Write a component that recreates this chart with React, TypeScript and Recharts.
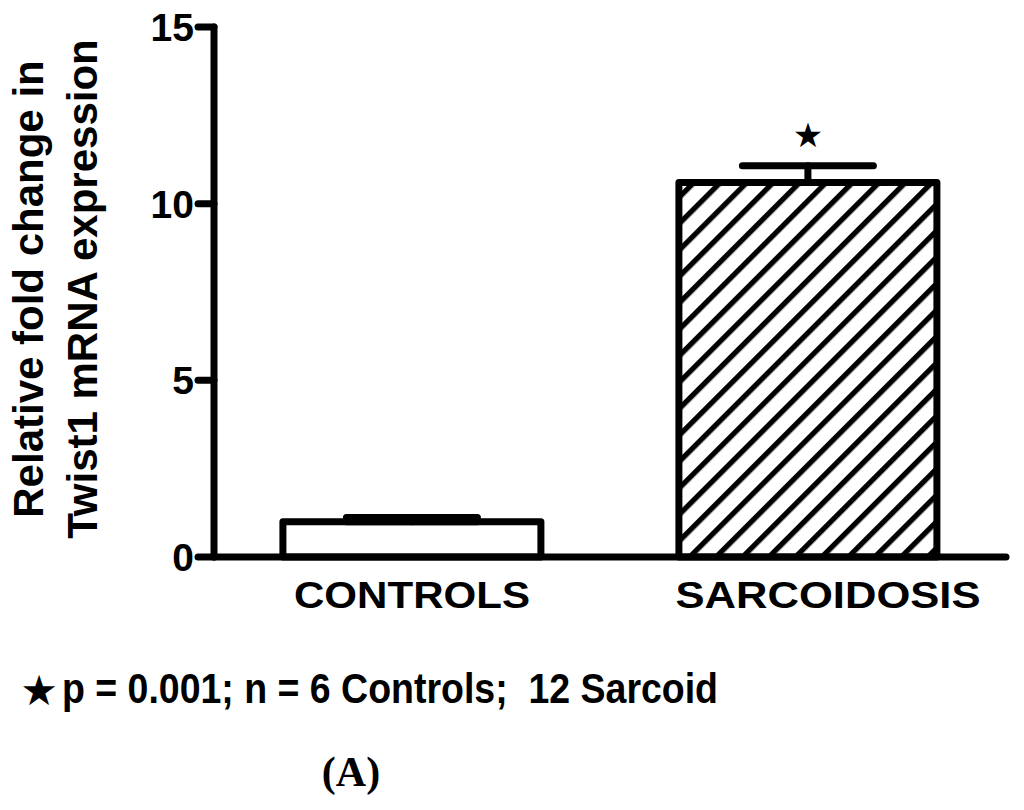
import { BarChart, Bar, XAxis, YAxis, Cell, ErrorBar, LabelList } from "recharts";

// values (relative fold change, mean + SEM upward only)
const categories = ["CONTROLS", "SARCOIDOSIS"];
const foldChange = [1.0, 10.6];
const sem = [0.12, 0.47];
const significant = [false, true];
const yTicks = [0, 5, 10, 15];

const barFills = ["#ffffff", "url(#hatch)"];
const labelWidths = [236, 305];
const labelShift = [0, 20];

const data = categories.map((name, i) => ({
  name,
  value: foldChange[i],
  err: [0, sem[i]],
  sig: significant[i],
}));

const FONT = "'Liberation Sans', Arial, Helvetica, sans-serif";

function CategoryTick(props: any) {
  const { x, y, payload, index } = props;
  return (
    <text
      x={x + labelShift[index]}
      y={y}
      dy={43}
      textAnchor="middle"
      fontFamily={FONT}
      fontWeight="bold"
      fontSize={36}
      fill="#000"
      textLength={labelWidths[index]}
      lengthAdjust="spacingAndGlyphs"
    >
      {payload.value}
    </text>
  );
}

function StarLabel(props: any) {
  const { x, y, width, height, value, index } = props;
  if (!data[index]?.sig) return null;
  // error cap sits sem * (px per unit) above the bar top
  const pxPerUnit = height / value;
  const capY = y - sem[index] * pxPerUnit;
  return (
    <text
      x={x + width / 2}
      y={capY - 31}
      textAnchor="middle"
      dominantBaseline="central"
      fontFamily="'DejaVu Sans', sans-serif"
      fontSize={34}
      fill="#000"
    >
      ★
    </text>
  );
}

function YLabel() {
  const cy = 289;
  return (
    <g fontFamily={FONT} fontWeight="bold" fontSize={42} fill="#000">
      <text x={43} y={cy} textAnchor="middle" transform={`rotate(-90, 43, ${cy})`}>
        Relative fold change in
      </text>
      <text x={97} y={cy} textAnchor="middle" transform={`rotate(-90, 97, ${cy})`}>
        Twist1 mRNA expression
      </text>
    </g>
  );
}

export default function App() {
  const line = { stroke: "#000", strokeWidth: 7, strokeLinecap: "round" as const };
  return (
    <div style={{ position: "absolute", left: 0, top: 0, width: 1024, height: 810, background: "#fff" }}>
      <svg width={0} height={0} style={{ position: "absolute" }}>
        <defs>
          <pattern id="hatch" patternUnits="userSpaceOnUse" width={18.7} height={18.7} patternTransform="rotate(45)">
            <rect width={18.7} height={18.7} fill="#fff" />
            <rect x={0} y={0} width={5.3} height={18.7} fill="#000" />
          </pattern>
        </defs>
      </svg>

      <BarChart
        width={1024}
        height={640}
        data={data}
        margin={{ top: 27, right: 18, left: 0, bottom: 0 }}
        barCategoryGap="17.4%"
      >
        <XAxis
          dataKey="name"
          height={83}
          tickLine={false}
          axisLine={line}
          tick={<CategoryTick />}
          interval={0}
        />
        <YAxis
          width={214}
          domain={[0, 15]}
          ticks={yTicks}
          interval={0}
          axisLine={line}
          tickLine={line}
          tickSize={16}
          tickMargin={4}
          tick={{ fill: "#000", fontFamily: FONT, fontWeight: "bold", fontSize: 39 }}
          label={<YLabel />}
        />
        <Bar
          dataKey="value"
          stroke="#000"
          strokeWidth={7}
          strokeLinejoin="round"
          isAnimationActive={false}
        >
          {data.map((d, i) => (
            <Cell key={d.name} fill={barFills[i]} />
          ))}
          <ErrorBar
            dataKey="err"
            width={65.5}
            stroke="#000"
            strokeWidth={7}
            strokeLinecap="round"
            direction="y"
            isAnimationActive={false}
          />
          <LabelList dataKey="value" content={<StarLabel />} />
        </Bar>
      </BarChart>

      <svg width={1024} height={170} style={{ position: "absolute", left: 0, top: 640 }}>
        <text x={39} y={50} textAnchor="middle" dominantBaseline="central" fontFamily="'DejaVu Sans', sans-serif" fontSize={42} fill="#000">
          ★
        </text>
        <text
          x={62}
          y={63}
          fontFamily="'Liberation Sans Narrow', 'Arial Narrow', 'Liberation Sans', sans-serif"
          fontWeight="bold"
          fontSize={42}
          fill="#000"
          textLength={656}
          lengthAdjust="spacingAndGlyphs"
          style={{ whiteSpace: "pre" }}
        >
          {"p = 0.001; n = 6 Controls;  12 Sarcoid"}
        </text>
        <text
          x={351}
          y={146}
          textAnchor="middle"
          fontFamily="'Liberation Serif', 'Times New Roman', serif"
          fontWeight="bold"
          fontSize={42}
          fill="#000"
        >
          (A)
        </text>
      </svg>
    </div>
  );
}
